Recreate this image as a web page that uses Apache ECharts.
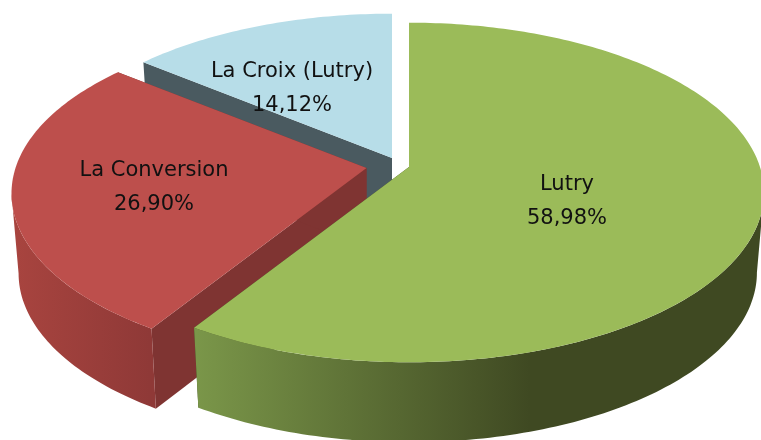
<!DOCTYPE html>
<html><head><meta charset="utf-8">
<style>html,body{margin:0;padding:0;background:#fff}#c{width:761px;height:440px;filter:blur(0.5px)}</style>
<script src="https://cdn.jsdelivr.net/npm/echarts@6/dist/echarts.min.js"></script>
</head><body><div id="c"></div>
<script>
const categories = ['Lutry', 'La Conversion', 'La Croix (Lutry)'];
const shares = [58.98, 26.90, 14.12];
const shareLabels = ['58,98%', '26,90%', '14,12%'];

// Drawing style of each slice, in the order of the categories
const apex = [[409, 167], [366.5, 168], [392, 158]];
const labelAt = [[567, 202], [154, 188], [292, 89]];
const topColor = ['#9bbb59', '#bd4f4c', '#b7dde8'];
const cutColor = ['#3f4823', '#7f3432', '#4a5a60'];
const wallStops = [
  [197, 530, '#7a9649', '#3f4922'],
  [14, 150, '#a8443f', '#8f3937'],
  [140, 392, '#4a5a60', '#4a5a60']
];
const K_X = 351, K_Y = 166, PERSP = 0.15, DEPTH = 80, SHRINK = 0.98;
// Angles at which the rim turns away from the viewer
const FRONT_FROM = 180 - Math.acos(PERSP) * 180 / Math.PI;
const FRONT_TO = 180 + Math.acos(PERSP) * 180 / Math.PI;

function project(c, deg, lower) {
  const t = deg * Math.PI / 180, X = Math.sin(t), Y = -Math.cos(t), d = 1 - PERSP * Y;
  const dx = K_X * X / d * (lower ? SHRINK : 1), dy = K_Y * Y / d;
  return [c[0] + dx, c[1] + dy + (lower ? DEPTH : 0)];
}
function arc(c, a0, a1, lower) {
  const pts = [];
  const n = Math.max(2, Math.ceil(a1 - a0));
  for (let i = 0; i <= n; i++) pts.push(project(c, a0 + (a1 - a0) * i / n, lower));
  return pts;
}
const rows = [];
let running = 0;
shares.forEach((v, i) => { rows.push([i, running, v]); running += v; });
rows.reverse();
const total = shares.reduce((a, b) => a + b, 0);

function renderItem(params, api) {
  const i = api.value(0), a0 = api.value(1) / total * 360, a1 = a0 + api.value(2) / total * 360;
  const c = apex[i], w = wallStops[i];
  const topArc = arc(c, a0, a1, false);
  const lowApex = [c[0], c[1] + DEPTH];
  const poly = (points, fill) => ({ type: 'polygon', silent: true, shape: { points }, style: { fill } });
  const cutEdge = (deg) => [c, project(c, deg, false), project(c, deg, true), lowApex];
  const children = [poly(cutEdge(a0), cutColor[i]), poly(cutEdge(a1), cutColor[i])];
  const f0 = Math.max(a0, FRONT_FROM), f1 = Math.min(a1, FRONT_TO);
  if (f1 > f0) {
    children.push(poly(arc(c, f0, f1, false).concat(arc(c, f0, f1, true).reverse()), {
      type: 'linear', x: w[0], y: 0, x2: w[1], y2: 0, global: true,
      colorStops: [{ offset: 0, color: w[2] }, { offset: 1, color: w[3] }]
    }));
  }
  children.push(poly([c].concat(topArc), topColor[i]));
  children.push({ type: 'text', silent: true, z2: 10, style: {
    text: categories[i] + '\n' + shareLabels[i], x: labelAt[i][0], y: labelAt[i][1],
    align: 'center', verticalAlign: 'middle',
    font: '400 21px "DejaVu Sans"', lineHeight: 34, fill: '#111111'
  } });
  return { type: 'group', children };
}
const chart = echarts.init(document.getElementById('c'), null, { renderer: 'canvas', width: 761, height: 440 });
chart.setOption({
  animation: false,
  backgroundColor: '#ffffff',
  series: [{ type: 'custom', coordinateSystem: 'none', silent: true, renderItem, data: rows }]
});
</script></body></html>
